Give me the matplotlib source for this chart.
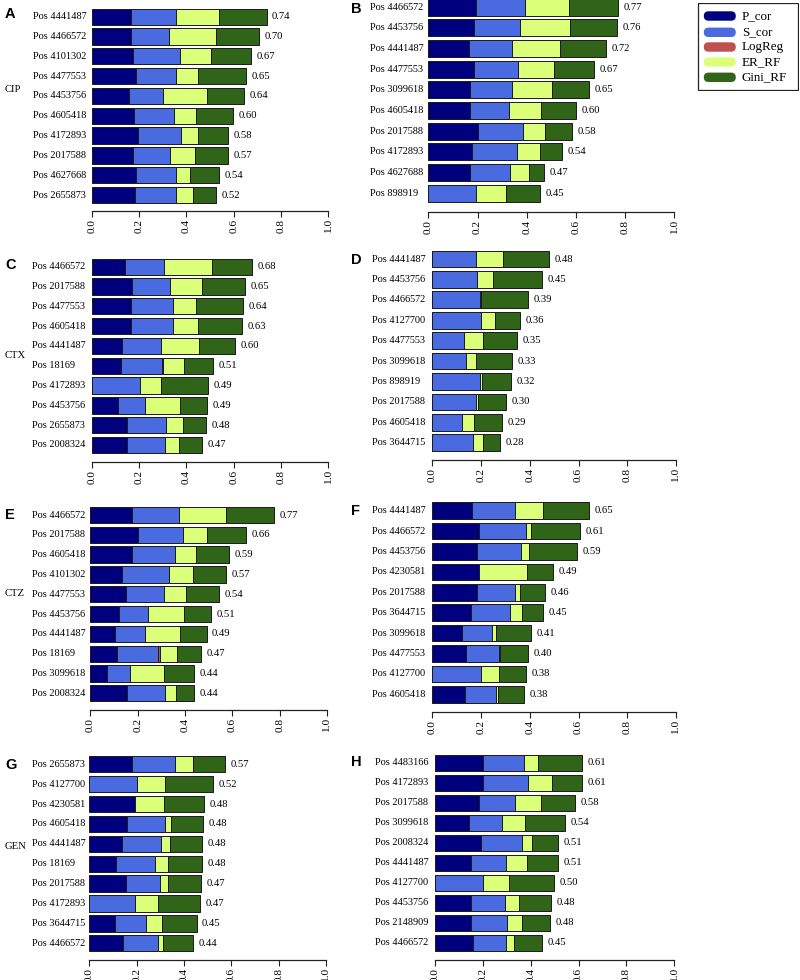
import matplotlib
matplotlib.use('Agg')
import matplotlib.pyplot as plt
from matplotlib.patches import FancyBboxPatch, Rectangle
import numpy as np

series = ['P_cor', 'S_cor', 'LogReg', 'ER_RF', 'Gini_RF']
colors = ['#00007F', '#4A6BDF', '#C0504D', '#DCFF7A', '#2F6419']

# ---------------- Panel A (CIP)
A_pos = ['Pos 4441487', 'Pos 4466572', 'Pos 4101302', 'Pos 4477553', 'Pos 4453756',
         'Pos 4605418', 'Pos 4172893', 'Pos 2017588', 'Pos 4627668', 'Pos 2655873']
A_p = [0.165, 0.165, 0.176, 0.186, 0.158, 0.180, 0.196, 0.175, 0.186, 0.185]
A_s = [0.190, 0.162, 0.199, 0.172, 0.145, 0.166, 0.180, 0.155, 0.169, 0.172]
A_lr = [0, 0, 0, 0, 0, 0, 0, 0, 0, 0]
A_er = [0.183, 0.197, 0.128, 0.093, 0.186, 0.096, 0.075, 0.106, 0.062, 0.070]
A_gini = [0.201, 0.182, 0.172, 0.203, 0.154, 0.155, 0.127, 0.139, 0.120, 0.097]
A_tot = ['0.74', '0.70', '0.67', '0.65', '0.64', '0.60', '0.58', '0.57', '0.54', '0.52']

# ---------------- Panel B
B_pos = ['Pos 4466572', 'Pos 4453756', 'Pos 4441487', 'Pos 4477553', 'Pos 3099618',
         'Pos 4605418', 'Pos 2017588', 'Pos 4172893', 'Pos 4627688', 'Pos 898919']
B_p = [0.192, 0.186, 0.164, 0.186, 0.169, 0.168, 0.201, 0.179, 0.169, 0.0]
B_s = [0.201, 0.187, 0.178, 0.178, 0.173, 0.160, 0.183, 0.183, 0.163, 0.195]
B_lr = [0, 0, 0, 0, 0, 0, 0, 0, 0, 0]
B_er = [0.179, 0.201, 0.194, 0.146, 0.159, 0.129, 0.091, 0.093, 0.079, 0.121]
B_gini = [0.201, 0.192, 0.188, 0.165, 0.154, 0.142, 0.111, 0.087, 0.061, 0.140]
B_tot = ['0.77', '0.76', '0.72', '0.67', '0.65', '0.60', '0.58', '0.54', '0.47', '0.45']

# ---------------- Panel C (CTX)
C_pos = ['Pos 4466572', 'Pos 2017588', 'Pos 4477553', 'Pos 4605418', 'Pos 4441487',
         'Pos 18169', 'Pos 4172893', 'Pos 4453756', 'Pos 2655873', 'Pos 2008324']
C_p = [0.141, 0.169, 0.166, 0.166, 0.128, 0.124, 0.0, 0.110, 0.151, 0.148]
C_s = [0.166, 0.163, 0.179, 0.176, 0.166, 0.172, 0.203, 0.115, 0.165, 0.163]
C_lr = [0, 0, 0, 0, 0, 0.004, 0, 0, 0, 0]
C_er = [0.200, 0.134, 0.096, 0.106, 0.159, 0.089, 0.092, 0.149, 0.069, 0.059]
C_gini = [0.172, 0.182, 0.200, 0.187, 0.152, 0.124, 0.196, 0.113, 0.099, 0.097]
C_tot = ['0.68', '0.65', '0.64', '0.63', '0.60', '0.51', '0.49', '0.49', '0.48', '0.47']

# ---------------- Panel D
D_pos = ['Pos 4441487', 'Pos 4453756', 'Pos 4466572', 'Pos 4127700', 'Pos 4477553',
         'Pos 3099618', 'Pos 898919', 'Pos 2017588', 'Pos 4605418', 'Pos 3644715']
D_p = [0, 0, 0, 0, 0, 0, 0, 0, 0, 0]
D_s = [0.179, 0.182, 0.195, 0.201, 0.131, 0.137, 0.194, 0.179, 0.123, 0.166]
D_lr = [0, 0, 0, 0, 0, 0, 0, 0, 0, 0]
D_er = [0.112, 0.066, 0.003, 0.056, 0.075, 0.042, 0.009, 0.008, 0.047, 0.040]
D_gini = [0.189, 0.202, 0.194, 0.104, 0.141, 0.148, 0.119, 0.114, 0.118, 0.072]
D_tot = ['0.48', '0.45', '0.39', '0.36', '0.35', '0.33', '0.32', '0.30', '0.29', '0.28']

# ---------------- Panel E (CTZ)
E_pos = ['Pos 4466572', 'Pos 2017588', 'Pos 4605418', 'Pos 4101302', 'Pos 4477553',
         'Pos 4453756', 'Pos 4441487', 'Pos 18169', 'Pos 3099618', 'Pos 2008324']
E_p = [0.177, 0.200, 0.177, 0.135, 0.151, 0.121, 0.103, 0.113, 0.072, 0.155]
E_s = [0.197, 0.193, 0.179, 0.196, 0.159, 0.121, 0.128, 0.172, 0.096, 0.159]
E_lr = [0, 0, 0, 0, 0, 0, 0, 0.009, 0, 0]
E_er = [0.201, 0.100, 0.089, 0.104, 0.096, 0.155, 0.149, 0.073, 0.145, 0.048]
E_gini = [0.200, 0.163, 0.141, 0.138, 0.138, 0.113, 0.111, 0.100, 0.125, 0.075]
E_tot = ['0.77', '0.66', '0.59', '0.57', '0.54', '0.51', '0.49', '0.47', '0.44', '0.44']

# ---------------- Panel F
F_pos = ['Pos 4441487', 'Pos 4466572', 'Pos 4453756', 'Pos 4230581', 'Pos 2017588',
         'Pos 3644715', 'Pos 3099618', 'Pos 4477553', 'Pos 4127700', 'Pos 4605418']
F_p = [0.161, 0.193, 0.183, 0.190, 0.183, 0.159, 0.120, 0.138, 0.0, 0.135]
F_s = [0.178, 0.190, 0.183, 0.0, 0.157, 0.161, 0.127, 0.135, 0.200, 0.128]
F_lr = [0, 0, 0, 0, 0, 0, 0, 0, 0, 0]
F_er = [0.116, 0.022, 0.030, 0.200, 0.019, 0.048, 0.016, 0.004, 0.073, 0.006]
F_gini = [0.190, 0.202, 0.196, 0.104, 0.103, 0.085, 0.142, 0.116, 0.112, 0.109]
F_tot = ['0.65', '0.61', '0.59', '0.49', '0.46', '0.45', '0.41', '0.40', '0.38', '0.38']

# ---------------- Panel G (GEN)
G_pos = ['Pos 2655873', 'Pos 4127700', 'Pos 4230581', 'Pos 4605418', 'Pos 4441487',
         'Pos 18169', 'Pos 2017588', 'Pos 4172893', 'Pos 3644715', 'Pos 4466572']
G_p = [0.182, 0.0, 0.193, 0.161, 0.139, 0.111, 0.155, 0.0, 0.108, 0.141]
G_s = [0.182, 0.200, 0.0, 0.158, 0.162, 0.166, 0.142, 0.192, 0.131, 0.149]
G_lr = [0, 0, 0, 0, 0, 0, 0, 0, 0, 0]
G_er = [0.075, 0.120, 0.123, 0.025, 0.042, 0.056, 0.037, 0.099, 0.070, 0.021]
G_gini = [0.134, 0.203, 0.168, 0.137, 0.135, 0.145, 0.138, 0.176, 0.144, 0.128]
G_tot = ['0.57', '0.52', '0.48', '0.48', '0.48', '0.48', '0.47', '0.47', '0.45', '0.44']

# ---------------- Panel H
H_pos = ['Pos 4483166', 'Pos 4172893', 'Pos 2017588', 'Pos 3099618', 'Pos 2008324',
         'Pos 4441487', 'Pos 4127700', 'Pos 4453756', 'Pos 2148909', 'Pos 4466572']
H_p = [0.199, 0.201, 0.184, 0.142, 0.194, 0.152, 0.0, 0.152, 0.149, 0.160]
H_s = [0.174, 0.187, 0.152, 0.136, 0.171, 0.143, 0.201, 0.141, 0.150, 0.138]
H_lr = [0, 0, 0, 0, 0, 0, 0, 0, 0, 0]
H_er = [0.057, 0.099, 0.106, 0.100, 0.042, 0.091, 0.110, 0.060, 0.063, 0.033]
H_gini = [0.185, 0.127, 0.142, 0.164, 0.109, 0.127, 0.188, 0.131, 0.117, 0.118]
H_tot = ['0.61', '0.61', '0.58', '0.54', '0.51', '0.51', '0.50', '0.48', '0.48', '0.45']

xticks = [0.0, 0.2, 0.4, 0.6, 0.8, 1.0]
xtick_labels = ['0.0', '0.2', '0.4', '0.6', '0.8', '1.0']

panels = [
    ('A', 'CIP', A_pos, [A_p, A_s, A_lr, A_er, A_gini], A_tot),
    ('B', None, B_pos, [B_p, B_s, B_lr, B_er, B_gini], B_tot),
    ('C', 'CTX', C_pos, [C_p, C_s, C_lr, C_er, C_gini], C_tot),
    ('D', None, D_pos, [D_p, D_s, D_lr, D_er, D_gini], D_tot),
    ('E', 'CTZ', E_pos, [E_p, E_s, E_lr, E_er, E_gini], E_tot),
    ('F', None, F_pos, [F_p, F_s, F_lr, F_er, F_gini], F_tot),
    ('G', 'GEN', G_pos, [G_p, G_s, G_lr, G_er, G_gini], G_tot),
    ('H', None, H_pos, [H_p, H_s, H_lr, H_er, H_gini], H_tot),
]

# layout in pixels: x0, x1, first row centre, last row centre, axis line y,
# label left x, letter x, letter y, drug label y
layout = {
    'A': (91.7, 328.3, 16.7, 195.0, 211.0, 33.0, 5, 14, 90),
    'B': (428.3, 674.3, 7.3, 193.3, 211.7, 370.0, 351, 9, None),
    'C': (91.7, 328.3, 266.7, 445.0, 461.7, 31.7, 5, 265, 355),
    'D': (432.3, 676.0, 259.0, 442.7, 460.0, 371.7, 351, 260, None),
    'E': (90.3, 327.0, 515.0, 693.3, 710.0, 31.7, 5, 515, 593),
    'F': (432.3, 676.0, 510.7, 694.3, 711.7, 372.0, 351, 511, None),
    'G': (89.3, 326.0, 764.3, 943.3, 960.0, 31.7, 5, 765, 846),
    'H': (435.0, 674.3, 762.7, 942.7, 960.0, 375.0, 351, 762, None),
}

W, H = 800, 980
fig = plt.figure(figsize=(W / 100, H / 100), dpi=100)
serif = 'Liberation Serif'
sans = 'Liberation Sans'

for letter, drug, pos, segs, tots in panels:
    x0, x1, r1, r10, ay, lx, ltx, lty, dy = layout[letter]
    sp = (r10 - r1) / 9.0
    top = r1 - 0.5 * sp
    ax = fig.add_axes([x0 / W, 1 - ay / H, (x1 - x0) / W, (ay - top) / H])
    n = len(pos)
    y = np.arange(n)
    left = np.zeros(n)
    for vals, col in zip(segs, colors):
        v = np.array(vals, dtype=float)
        ax.barh(y, v, left=left, height=0.82, color=col,
                edgecolor='#1a1a1a', linewidth=0.7)
        left = left + v
    for yi, (l, t) in enumerate(zip(left, tots)):
        ax.annotate(t, (l, yi), xytext=(4, 0), textcoords='offset points',
                    ha='left', va='center', fontsize=7.7, family=serif)
    ax.set_xlim(0, 1.0)
    ax.set_ylim(9 + (ay - r10) / sp, -0.5)
    ax.set_yticks([])
    for s in ['left', 'top', 'right']:
        ax.spines[s].set_visible(False)
    ax.spines['bottom'].set_linewidth(0.9)
    ax.spines['bottom'].set_color('#222222')
    ax.set_xticks(xticks)
    ax.set_xticklabels(xtick_labels, rotation=90, fontsize=8.2, family=serif)
    ax.tick_params(axis='x', direction='out', length=4, width=0.8, pad=2,
                   color='#222222')
    lxa = (lx - x0) / (x1 - x0)
    for yi, p in enumerate(pos):
        ax.text(lxa, yi, p, transform=ax.get_yaxis_transform(), ha='left',
                va='center', fontsize=7.4, family=serif)
    fig.text(ltx / W, 1 - lty / H, letter, ha='left', va='center',
             fontsize=10.5, fontweight='bold', family=sans)
    if drug is not None:
        fig.text(5 / W, 1 - dy / H, drug, ha='left', va='center',
                 fontsize=7.7, family=serif)

# legend
lx0, ly0, lw, lh = 697.3, 2.7, 101.5, 88.0
lax = fig.add_axes([lx0 / W, 1 - (ly0 + lh) / H, lw / W, lh / H])
lax.set_xlim(0, lw)
lax.set_ylim(lh, 0)
lax.axis('off')
lax.add_patch(Rectangle((0.5, 0.5), lw - 1.2, lh - 1.2, fill=False,
                        edgecolor='#222222', linewidth=0.9))
row_y = [13.3, 29.6, 44.3, 59.3, 74.6]
for name, col, ry in zip(series, colors, row_y):
    lax.add_patch(FancyBboxPatch((6.5, ry - 4.7), 32, 9.4,
                                 boxstyle='round,pad=0,rounding_size=4.7',
                                 facecolor=col, edgecolor='none'))
    lax.text(44.5, ry, name, ha='left', va='center', fontsize=9.4, family=serif)

fig.savefig('out.png', dpi=100)
